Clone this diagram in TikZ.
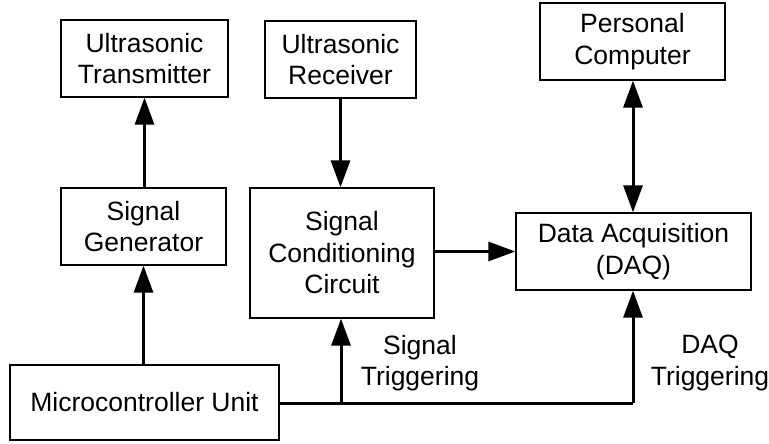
\documentclass[tikz,border=0pt]{standalone}
\usepackage{fontspec}
\setmainfont{Liberation Sans}
\usetikzlibrary{arrows.meta}
\begin{document}
\begin{tikzpicture}[x=1pt,y=-1pt,
  blk/.style={draw,line width=1.3pt,inner sep=0pt,align=center,font=\fontsize{26.5}{31.5}\selectfont},
  lbl/.style={align=center,inner sep=0pt,font=\fontsize{26.5}{31.5}\selectfont},
  conn/.style={line width=3pt,-{Triangle[length=27pt,width=19pt]}},
  wire/.style={line width=3pt}]
\useasboundingbox (0,0) rectangle (769,444);
\node[blk,minimum width=167pt,minimum height=77pt] (tx) at (144.5,58.5) {Ultrasonic\\Transmitter};
\node[blk,minimum width=151pt,minimum height=77pt] (rx) at (340.5,59.5) {Ultrasonic\\Receiver};
\node[blk,minimum width=185pt,minimum height=77pt] (pc) at (632.5,41.5) {Personal\\Computer};
\node[blk,minimum width=165pt,minimum height=77pt] (sg) at (143.5,226.5) {Signal\\Generator};
\node[blk,minimum width=184pt,minimum height=130pt] (scc) at (342,253) {Signal\\Conditioning\\Circuit};
\node[blk,minimum width=235pt,minimum height=77pt] (daq) at (633.5,251.5) {Data Acquisition\\(DAQ)};
\node[blk,minimum width=269pt,minimum height=75pt] (mcu) at (144.5,402.5) {Microcontroller Unit};
\node[lbl] (l1) at (420,363) {Signal\\Triggering};
\node[lbl] (l2) at (710,363) {DAQ\\Triggering};
\coordinate (j1) at (341,403);
\coordinate (j2) at (633,403);
\draw[conn] (sg.north -| tx.south) -- (tx.south);
\draw[conn] (mcu.north -| sg.south) -- (sg.south);
\draw[conn] (rx.south) -- (rx.south |- scc.north);
\draw[conn] (scc.east |- daq.west) -- (daq.west);
\draw[line width=3pt,{Triangle[length=27pt,width=19pt]}-{Triangle[length=27pt,width=19pt]}] (pc.south -| j2) -- (daq.north -| j2);
\draw[wire] (mcu.east |- j1) -- (j2);
\draw[conn] (j1) -- (j1 |- scc.south);
\draw[conn] (j2) -- (j2 |- daq.south);
\end{tikzpicture}
\end{document}
